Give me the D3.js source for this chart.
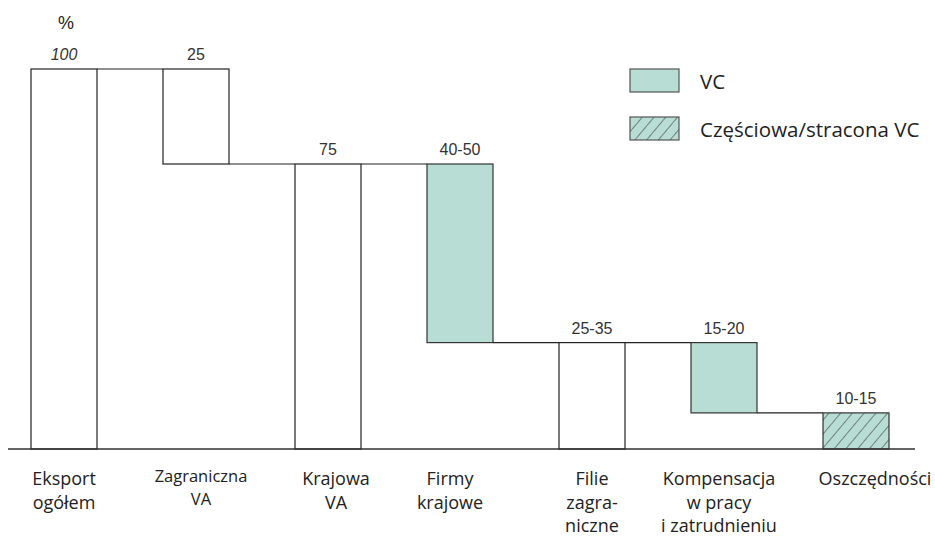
<!DOCTYPE html>
<html>
<head>
<meta charset="utf-8">
<script src="https://cdn.jsdelivr.net/npm/d3@7"></script>
<style>
  body { margin: 0; background: #fff; }
  svg { display: block; }
</style>
</head>
<body>
<div id="chart"></div>
<script>
// chart data
const categories = ["Eksport ogółem", "Zagraniczna VA", "Krajowa VA", "Firmy krajowe",
  "Filie zagraniczne", "Kompensacja w pracy i zatrudnieniu", "Oszczędności"];
const labelLines = [["Eksport", "ogółem"], ["Zagraniczna", "VA"], ["Krajowa", "VA"],
  ["Firmy", "krajowe"], ["Filie", "zagra-", "niczne"], ["Kompensacja", "w pracy", "i zatrudnieniu"],
  ["Oszczędności"]];
const valueLabels = ["100", "25", "75", "40-50", "25-35", "15-20", "10-15"];
const barTop = [100, 100, 75, 75, 28, 28, 9.5];
const barBottom = [0, 75, 0, 28, 0, 9.5, 0];
const barKind = ["plain", "plain", "plain", "vc", "plain", "vc", "partial"];
const legendItems = [{ kind: "vc", label: "VC" }, { kind: "partial", label: "Częściowa/stracona VC" }];

const width = 935, height = 540;
const teal = "#b8ddd5";
const lineCol = "#222";

const svg = d3.select("#chart").append("svg")
  .attr("width", width)
  .attr("height", height);

const defs = svg.append("defs");
const pat = defs.append("pattern")
  .attr("id", "hatch")
  .attr("patternUnits", "userSpaceOnUse")
  .attr("width", 9).attr("height", 9)
  .attr("patternTransform", "rotate(40)");
pat.append("rect").attr("width", 9).attr("height", 9).attr("fill", teal);
pat.append("line")
  .attr("x1", 0).attr("y1", 0).attr("x2", 0).attr("y2", 9)
  .attr("stroke", "#333").attr("stroke-width", 1.1);

const x = d3.scaleBand()
  .domain(categories)
  .range([31, 889])
  .paddingInner(0.5)
  .paddingOuter(0);

const y = d3.scaleLinear()
  .domain([0, 100])
  .range([449, 69]);

const fillFor = k => k === "vc" ? teal : k === "partial" ? "url(#hatch)" : "#fff";

// connector lines between consecutive bars
const conn = svg.append("g");
categories.slice(0, -1).forEach((c, i) => {
  const next = categories[i + 1];
  // join at the level where the next bar starts (its top)
  const lvl = barTop[i + 1];
  conn.append("line")
    .attr("x1", x(c) + x.bandwidth()).attr("x2", x(next))
    .attr("y1", y(lvl)).attr("y2", y(lvl))
    .attr("stroke", lineCol).attr("stroke-width", 1.2);
});

// bars
svg.append("g")
  .selectAll("rect")
  .data(categories)
  .join("rect")
  .attr("x", d => x(d))
  .attr("width", x.bandwidth())
  .attr("y", (d, i) => y(barTop[i]))
  .attr("height", (d, i) => y(barBottom[i]) - y(barTop[i]))
  .attr("fill", (d, i) => fillFor(barKind[i]))
  .attr("stroke", (d, i) => barKind[i] === "plain" ? lineCol : "#333")
  .attr("stroke-width", 1.2);

// baseline
svg.append("line")
  .attr("x1", 8).attr("x2", 915)
  .attr("y1", y(0)).attr("y2", y(0))
  .attr("stroke", "#333").attr("stroke-width", 1.5);

// value labels
svg.append("g")
  .selectAll("text")
  .data(categories)
  .join("text")
  .attr("x", d => x(d) + x.bandwidth() / 2)
  .attr("y", (d, i) => y(barTop[i]) - 9)
  .attr("text-anchor", "middle")
  .style("font-family", "'Liberation Sans', Arial, sans-serif")
  .style("font-size", "16px")
  .style("font-style", (d, i) => i === 0 ? "italic" : "normal")
  .attr("fill", "#333")
  .text((d, i) => valueLabels[i]);

svg.append("text")
  .attr("x", x(categories[0]) + x.bandwidth() / 2 + 2)
  .attr("y", 29)
  .attr("text-anchor", "middle")
  .style("font-family", "'Liberation Sans', Arial, sans-serif")
  .style("font-size", "18px")
  .attr("fill", "#222")
  .text("%");

// category labels under the baseline
const nudge = { "Zagraniczna VA": 5, "Krajowa VA": 8, "Firmy krajowe": -10,
  "Kompensacja w pracy i zatrudnieniu": -5, "Oszczędności": 19 };
const catG = svg.append("g")
  .style("font-family", "'Open Sans', sans-serif")
  .attr("fill", "#222");
categories.forEach((c, i) => {
  const small = i === 1;
  const t = catG.append("text")
    .attr("text-anchor", "middle")
    .style("font-size", small ? "16.5px" : "18px");
  labelLines[i].forEach((ln, j) => {
    t.append("tspan")
      .attr("x", x(c) + x.bandwidth() / 2 + (nudge[c] || 0))
      .attr("y", (small ? 482 : 485) + j * (small ? 23 : 23.5))
      .text(ln);
  });
});

// legend
const leg = svg.append("g").attr("transform", "translate(630,69)");
legendItems.forEach((it, i) => {
  const g = leg.append("g").attr("transform", `translate(0,${i * 48})`);
  g.append("rect")
    .attr("width", 49).attr("height", 23)
    .attr("fill", fillFor(it.kind))
    .attr("stroke", "#555").attr("stroke-width", 1.2);
  g.append("text")
    .attr("x", 70).attr("y", 20)
    .style("font-family", "'Open Sans', sans-serif")
    .style("font-size", "20.5px")
    .attr("fill", "#222")
    .text(it.label);
});
</script>
</body>
</html>
